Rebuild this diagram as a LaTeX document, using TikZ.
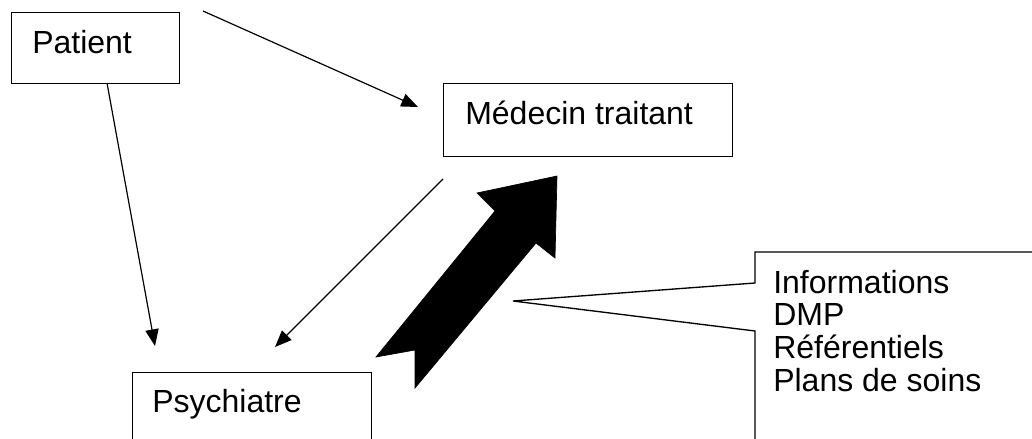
\documentclass[tikz,border=0pt]{standalone}
\usepackage{fontspec}
\setmainfont{Liberation Sans}
\usetikzlibrary{arrows.meta}
\begin{document}
\begin{tikzpicture}[x=0.75pt,y=-0.75pt,
  box/.style={draw, line width=1pt, anchor=north west, inner sep=0pt},
  lbl/.style={anchor=base west, inner sep=0pt, font=\fontsize{24}{24.4}\selectfont},
  conn/.style={line width=0.9pt, -{Triangle[length=12.5pt,width=10pt]}},
  bigarrow/.style={fill=black, draw=black, line width=0.5pt, line join=miter}]
\useasboundingbox (0,0) rectangle (1032,439);
\clip (0,0) rectangle (1032,439);

% boxes
\node[box, minimum width=126pt, minimum height=53.25pt] (patient) at (11,12) {};
\node[lbl] (tpatient) at (32,53) {Patient};

\node[box, minimum width=216.75pt, minimum height=54.75pt] (medecin) at (443,83) {};
\node[lbl] (tmedecin) at (465,124) {Médecin traitant};

\node[box, minimum width=179.25pt, minimum height=60pt] (psych) at (132,372) {};
\node[lbl] (tpsych) at (152,412) {Psychiatre};

% connector end points
\coordinate (pm0) at (203,11);
\coordinate (pm1) at (418,107);
\coordinate (pp0) at (107,83);
\coordinate (pp1) at (155,346);
\coordinate (mp0) at (443,179);
\coordinate (mp1) at (275,347);

\draw[conn] (pm0) -- (pm1);
\draw[conn] (pp0) -- (pp1);
\draw[conn] (mp0) -- (mp1);

% big block arrow
\fill[bigarrow] (557,176) -- (555,258) -- (536,243) -- (415,388) -- (415,350)
  -- (376,357) -- (495,211) -- (477,193) -- cycle;

% callout
\draw[line width=1pt, line join=miter] (1040,252) -- (755,252) -- (755,283) -- (513,301)
  -- (755,331) -- (755,445);
\node[lbl, align=left, anchor=north west] (callout) at (773,270)
  {Informations\\DMP\\Référentiels\\Plans de soins};
\end{tikzpicture}
\end{document}
